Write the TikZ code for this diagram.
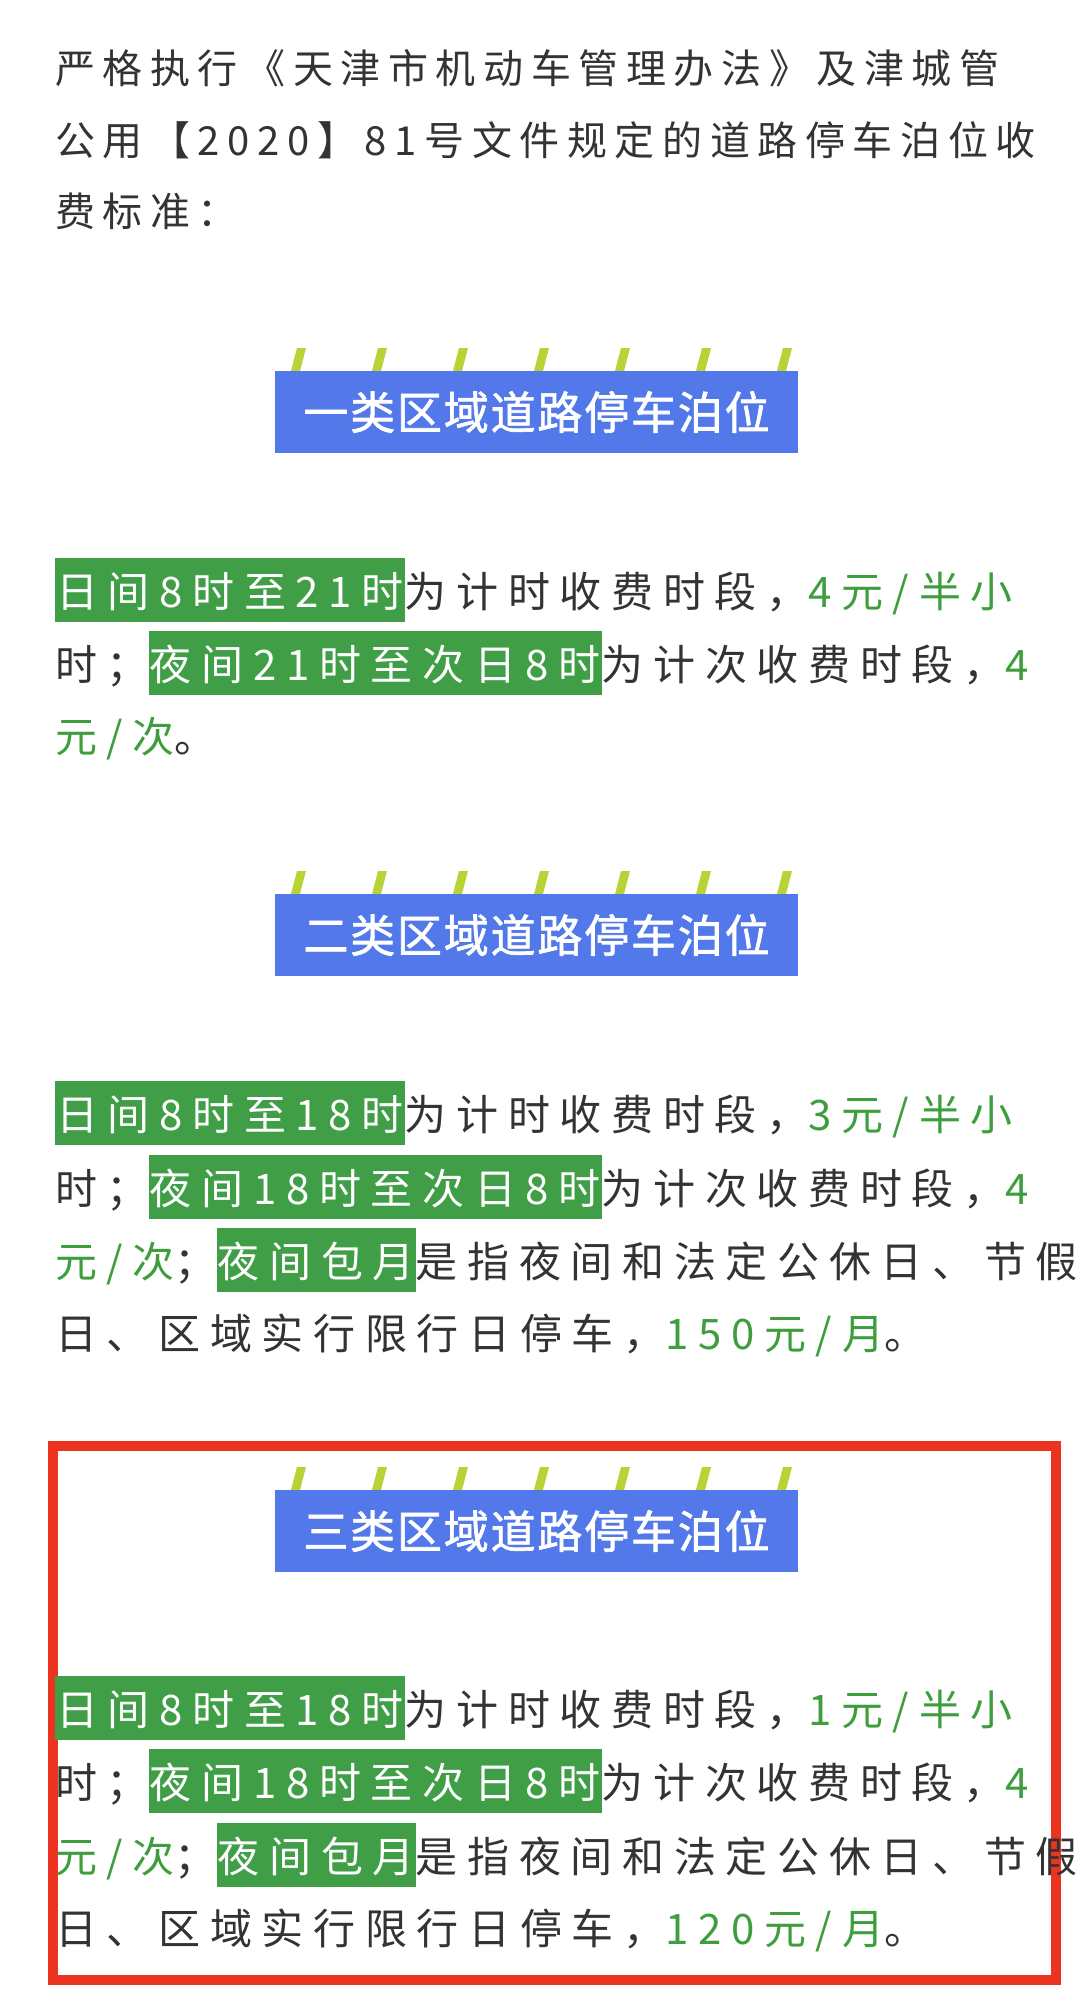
\documentclass[tikz,border=0pt]{standalone}
\usepackage{fontspec}
\setmainfont{Noto Sans CJK SC}
\newfontfamily\bodyf[LetterSpace=19]{Noto Sans CJK SC}
\newfontfamily\secf[LetterSpace=23]{Noto Sans CJK SC}
\newfontfamily\headf[LetterSpace=4,FakeBold=1.5]{Noto Sans CJK SC}
\definecolor{txt}{HTML}{333333}
\definecolor{grn}{HTML}{3E9E3E}
\definecolor{hl}{HTML}{3F9E46}
\definecolor{bluebox}{HTML}{5278EA}
\definecolor{stripe}{HTML}{B8D335}
\definecolor{redf}{HTML}{EC3320}
\newcommand{\hlt}[1]{{\setlength{\fboxsep}{1pt}\colorbox{hl}{\color{white}\rule[-14pt]{0pt}{62pt}#1}}}
\newcommand{\gt}[1]{{\color{grn}#1}}
\tikzset{
  line/.style={anchor=base west,inner sep=0,font=\bodyf\fontsize{40pt}{44pt}\selectfont,text=txt},
  sline/.style={anchor=base west,inner sep=0,font=\secf\fontsize{42pt}{46pt}\selectfont,text=txt},
  head/.style={fill=bluebox,text=white,minimum width=523pt,minimum height=82pt,inner sep=0,font=\headf\fontsize{45pt}{48pt}\selectfont},
}
\newcommand{\stripes}[2]{% y top of box, x left
  \foreach \i in {0,...,6}{
    \fill[stripe] ({#2+16+\i*81},{#1}) -- ({#2+25+\i*81},{#1}) -- ({#2+31+\i*81},{#1-23}) -- ({#2+22+\i*81},{#1-23}) -- cycle;
  }}
\begin{document}
\begin{tikzpicture}[x=1pt,y=-1pt]
\useasboundingbox (0,0) rectangle (1080,2001);
\fill[white] (0,0) rectangle (1080,2001);
% intro
\node[line] (i1) at (55,84) {严格执行《天津市机动车管理办法》及津城管};
\node[line] (i2) at (55,156) {公用【2020】81号文件规定的道路停车泊位收};
\node[line] (i3) at (55,227) {费标准：};
% section 1
\stripes{371}{275}
\node[head] (h1) at (536.5,412) {一类区域道路停车泊位};
\node[sline] (a1) at (55,607) {\hlt{日间8时至21时}为计时收费时段，\gt{4元/半小}};
\node[sline] (a2) at (55,680) {时；\hlt{夜间21时至次日8时}为计次收费时段，\gt{4}};
\node[sline] (a3) at (55,752) {\gt{元/次}。};
% section 2
\stripes{894}{275}
\node[head] (h2) at (536.5,935) {二类区域道路停车泊位};
\node[sline] (b1) at (55,1130) {\hlt{日间8时至18时}为计时收费时段，\gt{3元/半小}};
\node[sline] (b2) at (55,1204) {时；\hlt{夜间18时至次日8时}为计次收费时段，\gt{4}};
\node[sline] (b3) at (55,1277) {\gt{元/次}；\hlt{夜间包月}是指夜间和法定公休日、节假};
\node[sline] (b4) at (55,1349) {日、区域实行限行日停车，\gt{150元/月}。};
% section 3
\draw[redf,line width=10pt] (53,1446) rectangle (1056,1980);
\stripes{1490}{275}
\node[head] (h3) at (536.5,1531) {三类区域道路停车泊位};
\node[sline] (c1) at (55,1725) {\hlt{日间8时至18时}为计时收费时段，\gt{1元/半小}};
\node[sline] (c2) at (55,1798) {时；\hlt{夜间18时至次日8时}为计次收费时段，\gt{4}};
\node[sline] (c3) at (55,1872) {\gt{元/次}；\hlt{夜间包月}是指夜间和法定公休日、节假};
\node[sline] (c4) at (55,1944) {日、区域实行限行日停车，\gt{120元/月}。};
\end{tikzpicture}
\end{document}
